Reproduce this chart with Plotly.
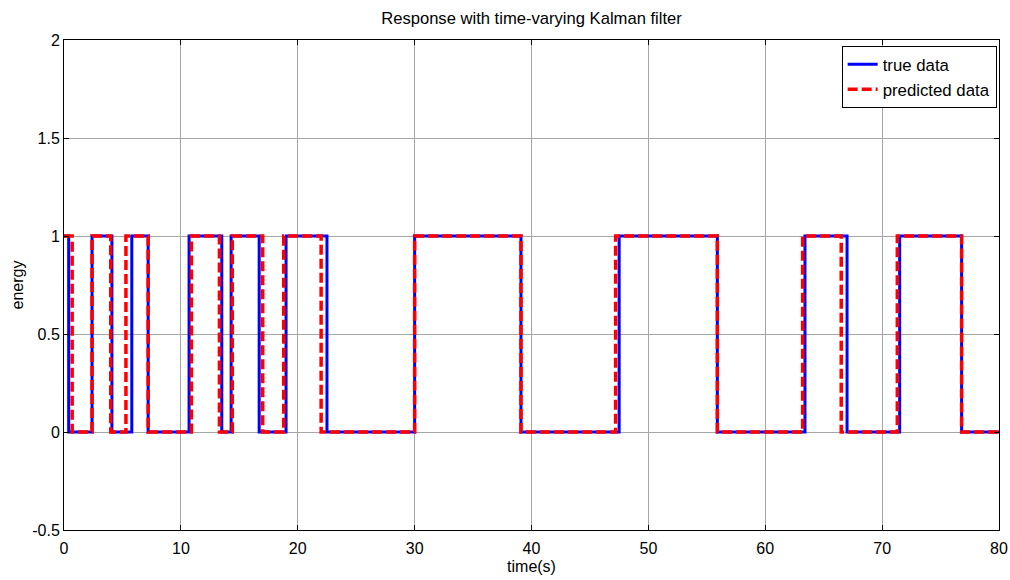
import plotly.graph_objects as go

# step transitions (time in s) and levels
true_t = [0, 0.4, 2.4, 4.1, 5.8, 7.2, 10.7, 13.5, 14.3, 16.7, 19.0, 22.5,
          30.0, 39.1, 47.5, 55.9, 63.4, 67.0, 71.5, 76.8, 80]
true_v = [1, 0, 1, 0, 1, 0, 1, 0, 1, 0, 1, 0, 1, 0, 1, 0, 1, 0, 1, 0, 0]

pred_t = [0, 0.7, 2.4, 4.0, 5.3, 7.2, 10.9, 13.3, 14.4, 17.0, 18.8, 22.0,
          30.0, 39.1, 47.2, 55.9, 63.2, 66.5, 71.3, 76.8, 80]
pred_v = [1, 0, 1, 0, 1, 0, 1, 0, 1, 0, 1, 0, 1, 0, 1, 0, 1, 0, 1, 0, 0]

x_ticks = [0, 10, 20, 30, 40, 50, 60, 70, 80]
y_ticks = [-0.5, 0, 0.5, 1, 1.5, 2]
y_labels = ["-0.5", "0", "0.5", "1", "1.5", "2"]

W, H = 1010, 580

fig = go.Figure()
fig.add_trace(go.Scatter(
    x=true_t, y=true_v, name="true data", mode="lines",
    line=dict(color="#0000ff", width=3, shape="hv"),
))
fig.add_trace(go.Scatter(
    x=pred_t, y=pred_v, name="predicted data", mode="lines",
    line=dict(color="#ff0000", width=3.5, shape="hv", dash="10px,4px"),
))

axis_common = dict(
    showgrid=True, gridcolor="#a6a6a6", gridwidth=1,
    showline=True, linecolor="black", linewidth=1, mirror="ticks",
    ticks="inside", ticklen=5, tickcolor="black",
    zeroline=False, automargin=False,
    tickfont=dict(size=16, color="black"),
)

fig.update_layout(
    width=W, height=H,
    paper_bgcolor="white", plot_bgcolor="white",
    font=dict(family="Liberation Sans, Arial, sans-serif", color="black"),
    margin=dict(l=64, r=11, t=40, b=50),
    title=dict(text="Response with time-varying Kalman filter",
               x=(64 + W - 11) / 2 / W, xanchor="center",
               yref="container", y=1 - 18 / H, yanchor="middle",
               font=dict(size=16.6)),
    xaxis=dict(range=[0, 80], tickvals=x_ticks, ticklabelstandoff=4,
               title=dict(text="time(s)", font=dict(size=16), standoff=4),
               **axis_common),
    yaxis=dict(range=[-0.5, 2], tickvals=y_ticks, ticktext=y_labels,
               title=dict(text="energy", font=dict(size=16), standoff=4),
               **axis_common),
    legend=dict(x=0.9975, y=0.988, xanchor="right", yanchor="top",
                bordercolor="black", borderwidth=1, bgcolor="white",
                font=dict(size=16.8), tracegroupgap=0, itemwidth=30),
    showlegend=True,
)

# drop the default body margin so the figure fills the window exactly
fig.write_html("out.html", config={"displayModeBar": False},
               post_script="document.body.style.margin='0';")
